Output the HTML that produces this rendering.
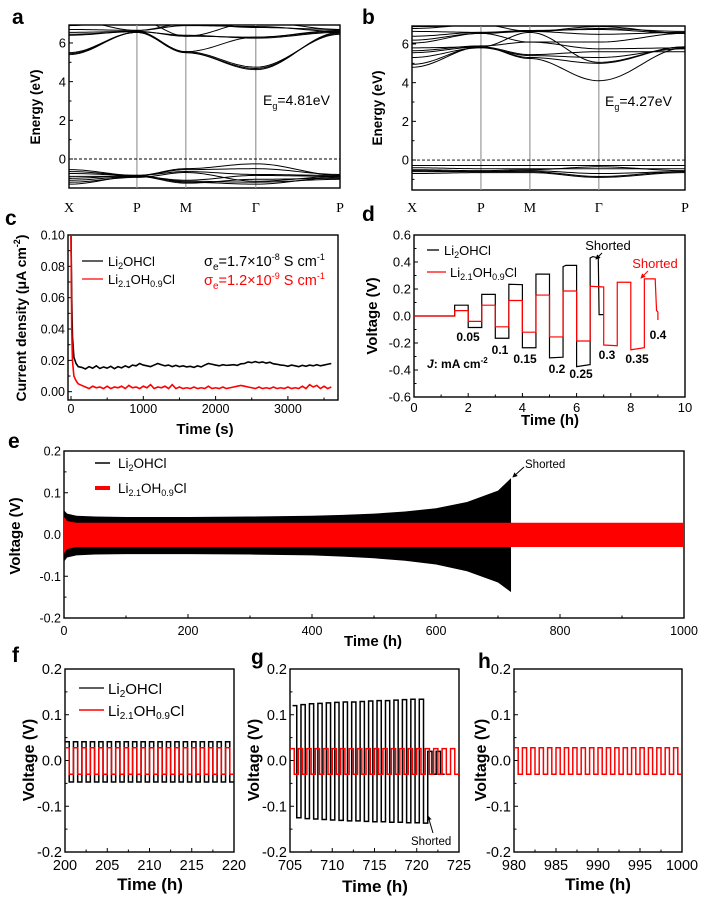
<!DOCTYPE html>
<html><head><meta charset="utf-8">
<style>
body{margin:0;background:#fff}
svg{display:block;font-family:"Liberation Sans",Arial,sans-serif}
.pl{font-size:21px;font-weight:bold}
.at{font-weight:bold}
</style></head>
<body>
<svg id="fig" xmlns="http://www.w3.org/2000/svg" width="710" height="898" viewBox="0 0 710 898">
<rect width="710" height="898" fill="#fff"/>
<defs>
<marker id="arr" viewBox="0 0 6 6" refX="5" refY="3" markerWidth="5" markerHeight="5" orient="auto"><path d="M0,0 L6,3 L0,6 z" fill="#000"/></marker>
<marker id="arrR" viewBox="0 0 6 6" refX="5" refY="3" markerWidth="5" markerHeight="5" orient="auto"><path d="M0,0 L6,3 L0,6 z" fill="#f00"/></marker>
</defs>

<text class="pl" x="12" y="24">a</text>
<text class="pl" x="362" y="24">b</text>
<text class="pl" x="5" y="225">c</text>
<text class="pl" x="362" y="221">d</text>
<text class="pl" x="8" y="448">e</text>
<text class="pl" x="12" y="662">f</text>
<text class="pl" x="251" y="664">g</text>
<text class="pl" x="478" y="668">h</text>

<text class="at" font-size="13.5" transform="translate(40,107) rotate(-90)" text-anchor="middle">Energy (eV)</text>
<text class="at" font-size="13.5" transform="translate(382,108) rotate(-90)" text-anchor="middle">Energy (eV)</text>
<text x="263" y="105" font-size="14">E<tspan font-size="9" dy="4">g</tspan><tspan dy="-4">=4.81eV</tspan></text>
<text x="605" y="106" font-size="14">E<tspan font-size="9" dy="4">g</tspan><tspan dy="-4">=4.27eV</tspan></text>

<text class="at" font-size="14" transform="translate(26,318) rotate(-90)" text-anchor="middle">Current density (μA cm<tspan font-size="9" dy="-6">-2</tspan><tspan dy="6">)</tspan></text>
<text class="at" font-size="15" x="205" y="434" text-anchor="middle">Time (s)</text>
<line x1="82" y1="261" x2="103" y2="261" stroke="#000" stroke-width="1.3"/>
<text x="108" y="266" font-size="13">Li<tspan font-size="9" dy="3">2</tspan><tspan dy="-3">OHCl</tspan></text>
<line x1="82" y1="279" x2="103" y2="279" stroke="#f00" stroke-width="1.3"/>
<text x="108" y="284" font-size="13">Li<tspan font-size="9" dy="3">2.1</tspan><tspan dy="-3">OH</tspan><tspan font-size="9" dy="3">0.9</tspan><tspan dy="-3">Cl</tspan></text>
<text x="204" y="266" font-size="14.5">σ<tspan font-size="10" dy="4">e</tspan><tspan dy="-4">=1.7×10</tspan><tspan font-size="9" dy="-6">-8</tspan><tspan dy="6"> S cm</tspan><tspan font-size="9" dy="-6">-1</tspan></text>
<text x="204" y="285" font-size="14.5" fill="#f00">σ<tspan font-size="10" dy="4">e</tspan><tspan dy="-4">=1.2×10</tspan><tspan font-size="9" dy="-6">-9</tspan><tspan dy="6"> S cm</tspan><tspan font-size="9" dy="-6">-1</tspan></text>

<text class="at" font-size="15" transform="translate(377,316) rotate(-90)" text-anchor="middle">Voltage (V)</text>
<text class="at" font-size="15" x="550" y="425" text-anchor="middle">Time (h)</text>
<line x1="427" y1="250" x2="439" y2="250" stroke="#000" stroke-width="1.3"/>
<text x="444" y="255" font-size="13">Li<tspan font-size="9" dy="3">2</tspan><tspan dy="-3">OHCl</tspan></text>
<line x1="427" y1="272" x2="446" y2="272" stroke="#f00" stroke-width="1.3"/>
<text x="450" y="277" font-size="13">Li<tspan font-size="9" dy="3">2.1</tspan><tspan dy="-3">OH</tspan><tspan font-size="9" dy="3">0.9</tspan><tspan dy="-3">Cl</tspan></text>
<text x="427" y="368" font-size="12" font-weight="bold"><tspan font-style="italic">J</tspan>: mA cm<tspan font-size="8" dy="-5">-2</tspan></text>
<text x="608" y="250" font-size="13" text-anchor="middle">Shorted</text>
<line x1="602" y1="253" x2="596" y2="259" stroke="#000" stroke-width="1" marker-end="url(#arr)"/>
<text x="655" y="268" font-size="13" fill="#f00" text-anchor="middle">Shorted</text>
<line x1="648" y1="271" x2="641" y2="278" stroke="#f00" stroke-width="1" marker-end="url(#arrR)"/>
<g font-size="12" font-weight="bold" text-anchor="middle">
<text x="468" y="341">0.05</text>
<text x="500" y="354">0.1</text>
<text x="525" y="363">0.15</text>
<text x="557" y="373">0.2</text>
<text x="581" y="378">0.25</text>
<text x="607" y="359">0.3</text>
<text x="637" y="363">0.35</text>
<text x="658" y="339">0.4</text>
</g>

<text class="at" font-size="15" transform="translate(20,536) rotate(-90)" text-anchor="middle">Voltage (V)</text>
<text class="at" font-size="15" x="373" y="646" text-anchor="middle">Time (h)</text>
<line x1="95" y1="463" x2="110" y2="463" stroke="#000" stroke-width="1.5"/>
<text x="118" y="468" font-size="13.5">Li<tspan font-size="9" dy="3">2</tspan><tspan dy="-3">OHCl</tspan></text>
<line x1="95" y1="488" x2="110" y2="488" stroke="#f00" stroke-width="4"/>
<text x="118" y="493" font-size="13.5">Li<tspan font-size="9" dy="3">2.1</tspan><tspan dy="-3">OH</tspan><tspan font-size="9" dy="3">0.9</tspan><tspan dy="-3">Cl</tspan></text>
<text x="525" y="468" font-size="11.5">Shorted</text>
<line x1="524" y1="467" x2="513" y2="477" stroke="#000" stroke-width="1" marker-end="url(#arr)"/>

<text class="at" font-size="16" transform="translate(34,760) rotate(-90)" text-anchor="middle">Voltage (V)</text>
<text class="at" font-size="16" transform="translate(259,760) rotate(-90)" text-anchor="middle">Voltage (V)</text>
<text class="at" font-size="16" transform="translate(486,760) rotate(-90)" text-anchor="middle">Voltage (V)</text>
<text class="at" font-size="17" x="150" y="890" text-anchor="middle">Time (h)</text>
<text class="at" font-size="17" x="375" y="892" text-anchor="middle">Time (h)</text>
<text class="at" font-size="17" x="598" y="890" text-anchor="middle">Time (h)</text>
<line x1="79" y1="688" x2="104" y2="688" stroke="#000" stroke-width="1.3"/>
<text x="108" y="694" font-size="15">Li<tspan font-size="10" dy="3">2</tspan><tspan dy="-3">OHCl</tspan></text>
<line x1="79" y1="710" x2="104" y2="710" stroke="#f00" stroke-width="1.5"/>
<text x="108" y="716" font-size="15">Li<tspan font-size="10" dy="3">2.1</tspan><tspan dy="-3">OH</tspan><tspan font-size="10" dy="3">0.9</tspan><tspan dy="-3">Cl</tspan></text>
<text x="411" y="845" font-size="11.5">Shorted</text>
<line x1="433" y1="833" x2="428" y2="816" stroke="#000" stroke-width="1" marker-end="url(#arr)"/>

<g id="plots"></g>
</svg>

<script>
const kLabels = ['X','P','M','Γ','P'];
const kDistA = [0, 1, 1.72, 2.75, 3.99];
const kDistB = [0, 1, 1.71, 2.71, 3.96];
const bandsA = [
 [5.4,6.55,5.5,4.62,6.55],[5.5,6.55,5.5,4.68,6.5],[5.45,6.55,5.55,4.75,6.45],
 [6.4,6.6,6.35,6.3,6.6],[6.45,6.58,6.4,6.25,6.55],[6.55,6.6,5.55,6.3,6.65],
 [6.7,6.65,6.9,6.85,6.6],[7.2,6.65,7.0,6.8,6.7],[6.9,7.2,6.35,7.1,6.7],
 [-0.55,-0.85,-0.5,-0.25,-0.85],[-0.65,-0.85,-0.55,-0.5,-0.8],[-0.75,-0.85,-0.65,-0.8,-0.85],
 [-0.9,-0.9,-1.1,-0.85,-0.9],[-1.0,-0.85,-1.2,-1.3,-0.95],[-1.1,-0.9,-1.25,-1.05,-1.0],
 [-1.2,-0.95,-0.7,-1.15,-0.9],[-1.3,-0.9,-1.15,-1.2,-1.05]
];
const bandsB = [
 [4.8,5.85,5.25,4.1,5.8],[4.95,5.85,5.3,5.0,5.85],[5.3,5.8,5.4,5.3,5.75],
 [5.55,5.85,5.45,5.6,5.6],[5.65,5.9,6.1,5.75,5.8],[5.8,5.85,6.6,5.05,5.85],
 [6.05,6.55,6.1,6.1,6.55],[6.2,6.55,6.65,6.5,6.6],[6.4,6.6,6.7,6.75,6.55],
 [6.65,6.6,6.65,6.9,6.55],[6.8,7.0,6.65,6.8,6.65],[6.9,6.95,7.1,6.95,7.0],
 [-0.28,-0.28,-0.28,-0.28,-0.28],[-0.4,-0.45,-0.45,-0.45,-0.45],[-0.5,-0.55,-0.5,-0.35,-0.55],
 [-0.55,-0.6,-0.55,-0.7,-0.6],[-0.6,-0.6,-0.6,-0.85,-0.6],[-0.7,-0.65,-0.65,-0.9,-0.65]
];
const cHeadTime = [0,10,20,40,70,100];
const cHeadBlack = [0.1,0.06,0.035,0.022,0.018,0.016];
const cHeadRed = [0.1,0.04,0.02,0.01,0.007,0.005];
const cTailStart = 150, cTailStep = 50;
const cBlack = [0.0155,0.0145,0.016,0.015,0.0165,0.0148,0.0158,0.015,0.0162,0.0147,0.016,0.0152,0.0165,0.0155,
 0.017,0.0165,0.018,0.017,0.0165,0.016,0.017,0.018,0.0172,0.0165,0.017,0.016,0.0168,0.016,
 0.0165,0.0158,0.0162,0.0155,0.0165,0.0158,0.017,0.018,0.0175,0.017,0.0165,0.0172,0.0168,0.017,
 0.0172,0.0168,0.0178,0.018,0.019,0.0185,0.0192,0.0185,0.019,0.0182,0.0188,0.0178,0.0175,0.017,
 0.0168,0.0162,0.017,0.0165,0.016,0.0168,0.0162,0.017,0.0165,0.0172,0.0165,0.017,0.0175,0.018];
const cRed = [0.004,0.003,0.002,0.0035,0.0025,0.003,0.002,0.0035,0.002,0.003,0.0025,0.0035,0.002,0.004,
 0.0025,0.003,0.002,0.0035,0.0025,0.0045,0.002,0.003,0.0025,0.0035,0.002,0.0045,0.002,0.003,
 0.002,0.0025,0.002,0.003,0.002,0.0025,0.002,0.0035,0.002,0.0025,0.002,0.003,0.002,0.0025,
 0.003,0.0035,0.004,0.0035,0.003,0.0025,0.002,0.003,0.002,0.0025,0.002,0.003,0.002,0.0025,
 0.002,0.003,0.002,0.0025,0.002,0.0035,0.002,0.0045,0.003,0.004,0.002,0.0035,0.002,0.003];
const dBlackTime = [0,1.5,1.5,2,2,2.5,2.5,3,3,3.5,3.5,4,4,4.5,4.5,5,5,5.5,5.5,5.6,6,6,6.5,6.5,6.6,6.8,6.83,7];
const dBlackVolt = [0,0,0.08,0.08,-0.085,-0.085,0.16,0.16,-0.165,-0.165,0.235,0.232,-0.235,-0.235,0.31,0.31,-0.31,-0.305,0.365,0.375,0.375,-0.375,-0.36,0.43,0.44,0.43,0.01,0.01];
const dRedTime = [0,1.5,1.5,2,2,2.5,2.5,3,3,3.5,3.5,4,4,4.5,4.5,5,5,5.5,5.5,6,6,6.5,6.5,7,7,7.5,7.5,8,8,8.5,8.5,8.9,8.95,9,9];
const dRedVolt = [0,0,0.04,0.04,-0.04,-0.04,0.08,0.08,-0.08,-0.08,0.115,0.115,-0.12,-0.12,0.155,0.155,-0.155,-0.155,0.185,0.185,-0.185,-0.185,0.22,0.215,-0.215,-0.22,0.25,0.25,-0.25,-0.235,0.275,0.275,0.04,0.03,-0.03];
const eBlackTime = [0,5,20,50,100,200,300,400,450,500,550,600,650,700,721];
const eBlackUpper = [0.058,0.05,0.045,0.043,0.042,0.042,0.043,0.045,0.047,0.05,0.055,0.063,0.078,0.105,0.135];
const eBlackLower = [-0.065,-0.055,-0.05,-0.048,-0.047,-0.047,-0.048,-0.05,-0.053,-0.057,-0.063,-0.072,-0.088,-0.115,-0.138];
const eRedTime = [0,5,20,1000];
const eRedUpper = [0.042,0.032,0.028,0.028];
const eRedLower = [-0.045,-0.035,-0.03,-0.03];
const fBlackHigh = [0.041,0.041,0.041,0.041,0.041,0.041,0.041,0.041,0.041,0.041,0.041,0.041,0.041,0.041,0.041,0.041,0.041,0.041,0.041,0.041];
const fBlackLow = [-0.047,-0.047,-0.047,-0.047,-0.047,-0.047,-0.047,-0.047,-0.047,-0.047,-0.047,-0.047,-0.047,-0.047,-0.047,-0.047,-0.047,-0.047,-0.047,-0.047];
const fRedHigh = [0.028,0.028,0.028,0.028,0.028,0.028,0.028,0.028,0.028,0.028,0.028,0.028,0.028,0.028,0.028,0.028,0.028,0.028,0.028,0.028];
const fRedLow = [-0.03,-0.03,-0.03,-0.03,-0.03,-0.03,-0.03,-0.03,-0.03,-0.03,-0.03,-0.03,-0.03,-0.03,-0.03,-0.03,-0.03,-0.03,-0.03,-0.03];
const gBlackHigh = [0.12,0.122,0.124,0.125,0.126,0.127,0.128,0.128,0.129,0.13,0.131,0.131,0.132,0.133,0.134,0.134,0.02,0.02];
const gBlackLow = [-0.125,-0.127,-0.128,-0.129,-0.13,-0.131,-0.132,-0.132,-0.133,-0.134,-0.134,-0.135,-0.135,-0.136,-0.136,-0.137,-0.03,-0.03];
const gRedHigh = [0.026,0.026,0.026,0.026,0.026,0.026,0.026,0.026,0.026,0.026,0.026,0.026,0.026,0.026,0.026,0.026,0.026,0.026,0.026,0.026];
const gRedLow = [-0.03,-0.03,-0.03,-0.03,-0.03,-0.03,-0.03,-0.03,-0.03,-0.03,-0.03,-0.03,-0.03,-0.03,-0.03,-0.03,-0.03,-0.03,-0.03,-0.03];
const hRedHigh = [0.028,0.028,0.028,0.028,0.028,0.028,0.028,0.028,0.028,0.028,0.028,0.028,0.028,0.028,0.028,0.028,0.028,0.028,0.028,0.028];
const hRedLow = [-0.03,-0.03,-0.03,-0.03,-0.03,-0.03,-0.03,-0.03,-0.03,-0.03,-0.03,-0.03,-0.03,-0.03,-0.03,-0.03,-0.03,-0.03,-0.03,-0.03];

const NS = 'http://www.w3.org/2000/svg';
const root = document.getElementById('plots');
let clipId = 0;
function mk(tag, attrs, parent, name) {
  const e = document.createElementNS(NS, tag);
  for (const k in attrs) e.setAttribute(k, attrs[k]);
  
  
  (parent || root).appendChild(e);
  return e;
}
function lin(d0, d1, r0, r1) { return v => r0 + (v - d0) * (r1 - r0) / (d1 - d0); }
function axes(p, box, xd, yd, o) {
  const sx = lin(xd[0], xd[1], box.l, box.r), sy = lin(yd[0], yd[1], box.b, box.t);
  const g = mk('g', {}, root, p + '-axes');
  const cid = 'clip' + (clipId++);
  const cp = mk('clipPath', {id: cid}, g, p + '-clip');
  mk('rect', {x: box.l, y: box.t, width: box.r - box.l, height: box.b - box.t}, cp, p + '-clip-rect');
  const plot = mk('g', {'clip-path': 'url(#' + cid + ')'}, root, p + '-plot-area');
  (o.xticks || []).forEach(v => {
    const x = sx(v);
    mk('line', {x1: x, x2: x, y1: box.b, y2: box.b - 4, stroke: '#000', 'stroke-width': 1}, g, p + '-x-tick');
    if (o.xfmt) {
      const t = mk('text', {x: x, y: box.b + o.xoff, 'text-anchor': 'middle', 'font-size': o.fs}, g, p + '-x-tick-label');
      t.textContent = o.xfmt(v);
    }
  });
  (o.xminor || []).forEach(v => {
    mk('line', {x1: sx(v), x2: sx(v), y1: box.b, y2: box.b - 2.5, stroke: '#000', 'stroke-width': 1}, g, p + '-x-minor-tick');
  });
  (o.yticks || []).forEach(v => {
    const y = sy(v);
    mk('line', {x1: box.l, x2: box.l + 4, y1: y, y2: y, stroke: '#000', 'stroke-width': 1}, g, p + '-y-tick');
    const t = mk('text', {x: box.l - 3, y: y + o.fs * 0.36, 'text-anchor': 'end', 'font-size': o.fs}, g, p + '-y-tick-label');
    t.textContent = o.yfmt(v);
  });
  (o.yminor || []).forEach(v => {
    mk('line', {x1: box.l, x2: box.l + 2.5, y1: sy(v), y2: sy(v), stroke: '#000', 'stroke-width': 1}, g, p + '-y-minor-tick');
  });
  mk('rect', {x: box.l, y: box.t, width: box.r - box.l, height: box.b - box.t, fill: 'none', stroke: '#000', 'stroke-width': 1.4}, g, p + '-frame');
  return {sx, sy, plot, g};
}
function pathXY(xs, ys, sx, sy) {
  return xs.map((x, i) => (i ? 'L' : 'M') + sx(x).toFixed(2) + ',' + sy(ys[i]).toFixed(2)).join('');
}
function squarePath(t0, period, highs, lows, sx, sy) {
  let d = '';
  highs.forEach((h, i) => {
    const t = t0 + i * period;
    d += (i ? 'L' : 'M') + sx(t) + ',' + sy(lows[i - 1] !== undefined ? lows[i - 1] : h);
    d += 'L' + sx(t) + ',' + sy(h) + 'L' + sx(t + period / 2) + ',' + sy(h);
    d += 'L' + sx(t + period / 2) + ',' + sy(lows[i]) + 'L' + sx(t + period) + ',' + sy(lows[i]);
  });
  return d;
}
const f1 = v => v.toFixed(1), f2 = v => v.toFixed(2), f0 = v => String(v);

function bandPanel(p, box, kd, yd, bands) {
  const A = axes(p, box, [kd[0], kd[kd.length - 1]], yd, {yticks: [0, 2, 4, 6], yfmt: f0, yminor: [-1, 1, 3, 5], fs: 13});
  kd.slice(1, -1).forEach(k => {
    mk('line', {x1: A.sx(k), x2: A.sx(k), y1: box.t, y2: box.b, stroke: '#999', 'stroke-width': 1.2}, A.plot, p + '-kpoint-line');
  });
  mk('line', {x1: box.l, x2: box.r, y1: A.sy(0), y2: A.sy(0), stroke: '#000', 'stroke-width': 0.9, 'stroke-dasharray': '3,2'}, A.plot, p + '-fermi-level');
  bands.forEach(b => {
    let d = '';
    for (let s = 0; s < kd.length - 1; s++) {
      for (let j = 0; j <= 20; j++) {
        const u = j / 20, w = (1 - Math.cos(Math.PI * u)) / 2;
        const k = kd[s] + (kd[s + 1] - kd[s]) * u, e = b[s] + (b[s + 1] - b[s]) * w;
        d += (d ? 'L' : 'M') + A.sx(k).toFixed(2) + ',' + A.sy(e).toFixed(2);
      }
    }
    mk('path', {d: d, fill: 'none', stroke: '#000', 'stroke-width': 1}, A.plot, p + '-band');
  });
  kd.forEach((k, i) => {
    const t = mk('text', {x: A.sx(k), y: 212, 'text-anchor': 'middle', 'font-size': 14, 'font-family': '"Liberation Serif", serif'}, root, p + '-kpoint-label');
    t.textContent = kLabels[i];
  });
}
bandPanel('a', {l: 69, t: 25, r: 340, b: 188}, kDistA, [-1.5, 6.93], bandsA);
bandPanel('b', {l: 412, t: 26, r: 685, b: 190}, kDistB, [-1.55, 6.93], bandsB);

(function () {
  const A = axes('c', {l: 68, t: 235, r: 338, b: 400}, [-41.5, 3693], [-0.0053, 0.1],
    {xticks: [0, 1000, 2000, 3000], xfmt: f0, xoff: 13, xminor: [500, 1500, 2500, 3500], yticks: [0, 0.02, 0.04, 0.06, 0.08, 0.1], yfmt: f2, yminor: [0.01, 0.03, 0.05, 0.07, 0.09], fs: 12.5});
  const tail = cBlack.map((v, i) => cTailStart + i * cTailStep);
  mk('path', {d: pathXY(cHeadTime.concat(tail), cHeadBlack.concat(cBlack), A.sx, A.sy), fill: 'none', stroke: '#000', 'stroke-width': 1.6}, A.plot, 'c-line-li2ohcl');
  mk('path', {d: pathXY(cHeadTime.concat(tail), cHeadRed.concat(cRed), A.sx, A.sy), fill: 'none', stroke: '#f00', 'stroke-width': 1.6}, A.plot, 'c-line-li21oh09cl');
})();

(function () {
  const A = axes('d', {l: 414, t: 235, r: 685, b: 397}, [0, 10], [-0.6, 0.6],
    {xticks: [0, 2, 4, 6, 8, 10], xfmt: f0, xoff: 15, xminor: [1, 3, 5, 7, 9], yticks: [-0.6, -0.4, -0.2, 0, 0.2, 0.4, 0.6], yfmt: f1, yminor: [-0.5, -0.3, -0.1, 0.1, 0.3, 0.5], fs: 13});
  mk('path', {d: pathXY(dBlackTime, dBlackVolt, A.sx, A.sy), fill: 'none', stroke: '#000', 'stroke-width': 1.2}, A.plot, 'd-line-li2ohcl');
  mk('path', {d: pathXY(dRedTime, dRedVolt, A.sx, A.sy), fill: 'none', stroke: '#f00', 'stroke-width': 1.2}, A.plot, 'd-line-li21oh09cl');
})();

(function () {
  const A = axes('e', {l: 64, t: 451, r: 684, b: 618}, [0, 1000], [-0.2, 0.2],
    {xticks: [0, 200, 400, 600, 800, 1000], xfmt: f0, xoff: 17, xminor: [100, 300, 500, 700, 900], yticks: [-0.2, -0.1, 0, 0.1, 0.2], yfmt: f1, yminor: [-0.15, -0.05, 0.05, 0.15], fs: 12.5});
  const bd = pathXY(eBlackTime.concat(eBlackTime.slice().reverse()), eBlackUpper.concat(eBlackLower.slice().reverse()), A.sx, A.sy) + 'Z';
  mk('path', {d: bd, fill: '#000'}, A.plot, 'e-band-li2ohcl');
  const rd = pathXY(eRedTime.concat(eRedTime.slice().reverse()), eRedUpper.concat(eRedLower.slice().reverse()), A.sx, A.sy) + 'Z';
  mk('path', {d: rd, fill: '#f00'}, A.plot, 'e-band-li21oh09cl');
})();

const zoomOpts = (x0) => ({xticks: [x0, x0 + 5, x0 + 10, x0 + 15, x0 + 20], xfmt: f0, xoff: 18, xminor: [x0 + 2.5, x0 + 7.5, x0 + 12.5, x0 + 17.5],
  yticks: [-0.2, -0.1, 0, 0.1, 0.2], yfmt: f1, yminor: [-0.15, -0.05, 0.05, 0.15], fs: 14.5});
(function () {
  const A = axes('f', {l: 65, t: 669, r: 234, b: 852}, [200, 220], [-0.2, 0.2], zoomOpts(200));
  mk('path', {d: squarePath(200, 1, fBlackHigh, fBlackLow, A.sx, A.sy), fill: 'none', stroke: '#000', 'stroke-width': 1.5}, A.plot, 'f-line-li2ohcl');
  mk('path', {d: squarePath(200, 1, fRedHigh, fRedLow, A.sx, A.sy), fill: 'none', stroke: '#f00', 'stroke-width': 1.5}, A.plot, 'f-line-li21oh09cl');
})();
(function () {
  const A = axes('g', {l: 290, t: 669, r: 459, b: 852}, [705, 725], [-0.2, 0.2], zoomOpts(705));
  mk('path', {d: squarePath(705.3, 1, gBlackHigh, gBlackLow, A.sx, A.sy), fill: 'none', stroke: '#000', 'stroke-width': 1.5}, A.plot, 'g-line-li2ohcl');
  mk('path', {d: squarePath(705, 1, gRedHigh, gRedLow, A.sx, A.sy), fill: 'none', stroke: '#f00', 'stroke-width': 1.5}, A.plot, 'g-line-li21oh09cl');
})();
(function () {
  const A = axes('h', {l: 514, t: 669, r: 682, b: 852}, [980, 1000], [-0.2, 0.2], zoomOpts(980));
  mk('path', {d: squarePath(980, 1, hRedHigh, hRedLow, A.sx, A.sy), fill: 'none', stroke: '#f00', 'stroke-width': 1.5}, A.plot, 'h-line-li21oh09cl');
})();
</script>
</body></html>
